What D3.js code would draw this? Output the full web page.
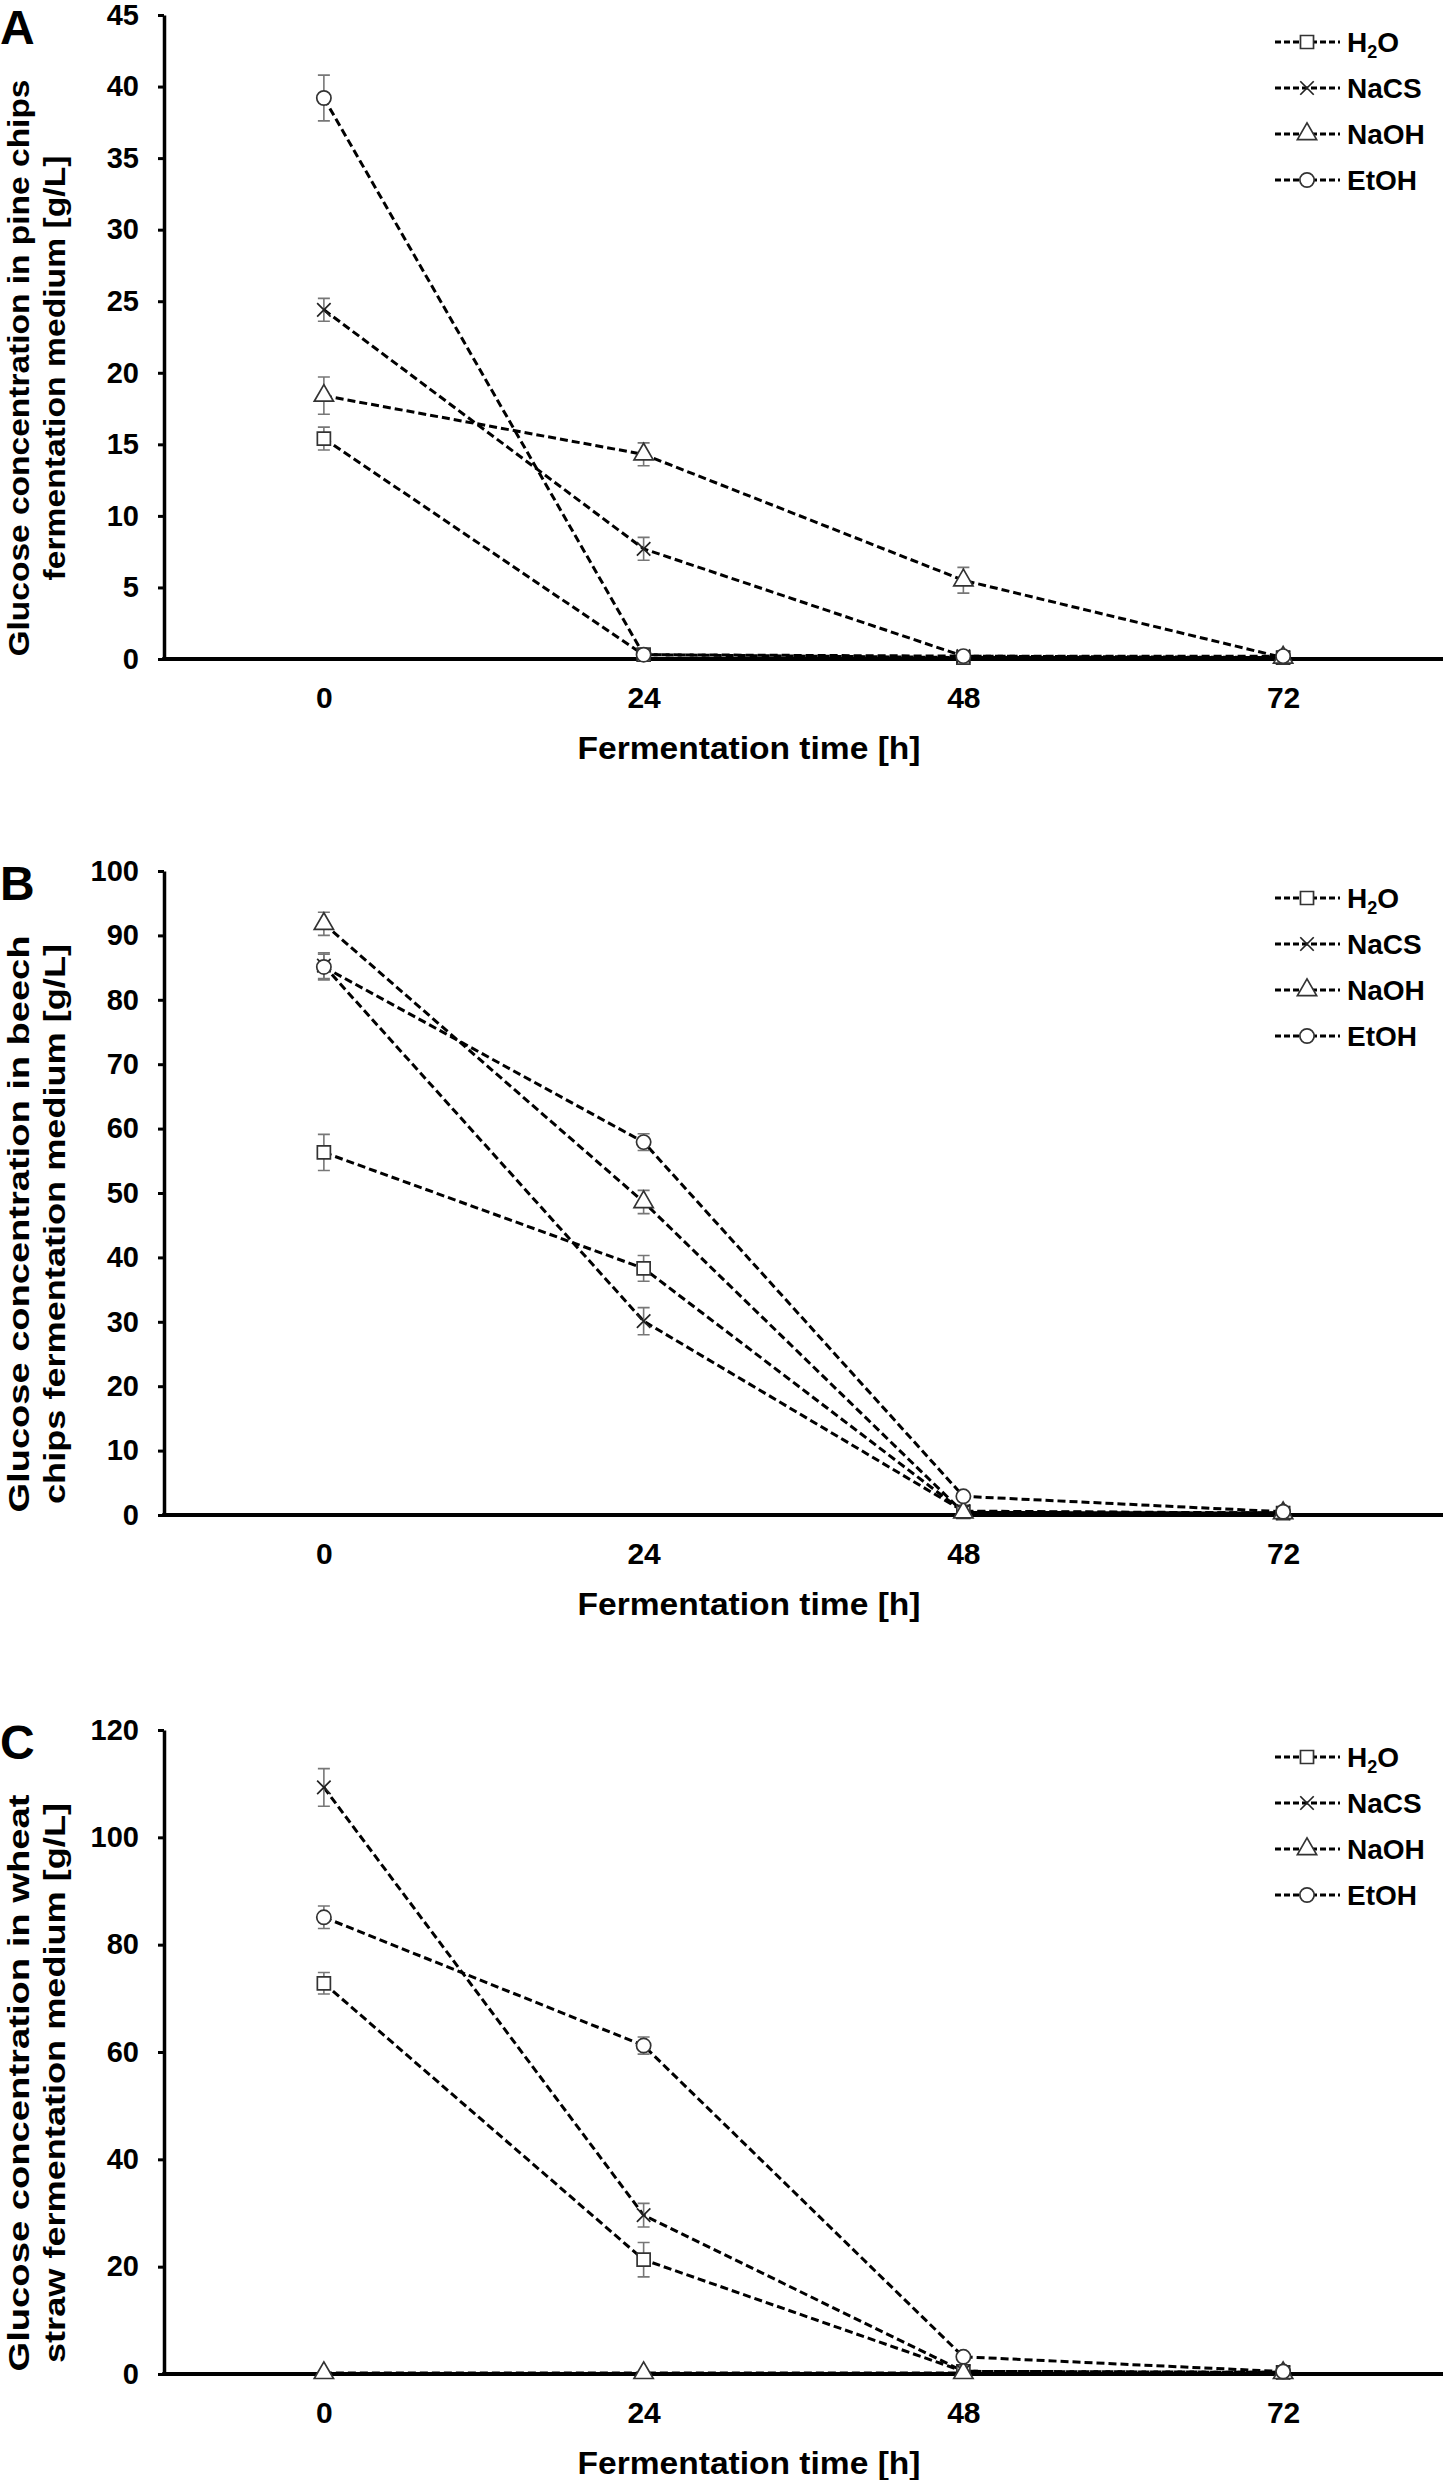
<!DOCTYPE html>
<html>
<head>
<meta charset="utf-8">
<script src="https://cdn.jsdelivr.net/npm/d3@7"></script>
<style>
  html, body { margin: 0; padding: 0; background: #fff; }
  svg { display: block; }
  text { font-family: "Liberation Sans", Arial, sans-serif; font-weight: bold; fill: #000; }
</style>
</head>
<body>
<svg id="chart" width="1443" height="2480"></svg>
<script>
// ---------------- DATA ----------------
const categories = ["0", "24", "48", "72"];
const seriesNames = ["H2O", "NaCS", "NaOH", "EtOH"];
const seriesSymbols = ["square", "x", "triangle", "circle"];

// Panel A: pine chips (rows = series H2O, NaCS, NaOH, EtOH; columns = 0, 24, 48, 72 h)
const pineMeans = [
  [15.4, 0.3, 0.1, 0.1],
  [24.4, 7.7, 0.2, 0.1],
  [18.4, 14.3, 5.5, 0.1],
  [39.2, 0.3, 0.2, 0.2]
];
const pineErrors = [
  [0.8, 0.1, 0.1, 0.1],
  [0.8, 0.8, 0.1, 0.1],
  [1.3, 0.8, 0.9, 0.1],
  [1.6, 0.1, 0.1, 0.1]
];
const pineTicks = [0, 5, 10, 15, 20, 25, 30, 35, 40, 45];

// Panel B: beech chips
const beechMeans = [
  [56.3, 38.3, 0.5, 0.3],
  [85.3, 30.1, 0.6, 0.3],
  [91.8, 48.6, 0.4, 0.3],
  [85.1, 57.9, 2.9, 0.5]
];
const beechErrors = [
  [2.8, 2.0, 0.2, 0.2],
  [2.0, 2.1, 0.2, 0.2],
  [1.8, 1.8, 0.2, 0.2],
  [2.0, 1.3, 0.3, 0.2]
];
const beechTicks = [0, 10, 20, 30, 40, 50, 60, 70, 80, 90, 100];

// Panel C: wheat straw
const wheatMeans = [
  [72.8, 21.3, 0.5, 0.3],
  [109.3, 29.6, 0.5, 0.3],
  [0.2, 0.2, 0.2, 0.2],
  [85.1, 61.2, 3.2, 0.45]
];
const wheatErrors = [
  [2.0, 3.2, 0.2, 0.2],
  [3.5, 2.2, 0.2, 0.2],
  [0.1, 0.1, 0.1, 0.1],
  [2.1, 1.6, 0.3, 0.2]
];
const wheatTicks = [0, 20, 40, 60, 80, 100, 120];

const panelLetters = ["A", "B", "C"];
const yTitleLine1 = ["Glucose concentration in pine chips", "Glucose concentration in beech", "Glucose concentration in wheat"];
const yTitleLine2 = ["fermentation medium [g/L]", "chips fermentation medium [g/L]", "straw fermentation medium [g/L]"];
const xTitle = "Fermentation time [h]";

// ---------------- LAYOUT ----------------
const svg = d3.select("#chart");
const axisX = 164, plotRight = 1443, plotH = 644;
const panelTops = [15, 871, 1730];
const panels = [
  { means: pineMeans, errs: pineErrors, ticks: pineTicks },
  { means: beechMeans, errs: beechErrors, ticks: beechTicks },
  { means: wheatMeans, errs: wheatErrors, ticks: wheatTicks }
];

const x = d3.scalePoint().domain(categories).range([axisX, plotRight]).padding(0.5);

function symbolPath(kind) {
  if (kind === "square") return d3.symbol(d3.symbolSquare, 170)();
  if (kind === "triangle") return d3.symbol(d3.symbolTriangle, 160)();
  if (kind === "circle") return d3.symbol(d3.symbolCircle, 160)();
  return d3.symbol(d3.symbolX, 120)();
}

function drawMarker(g, kind, cx, cy) {
  const p = g.append("path")
    .attr("d", symbolPath(kind))
    .attr("transform", `translate(${cx},${cy})`);
  if (kind === "x") {
    p.attr("fill", "none").attr("stroke", "#222").attr("stroke-width", 1.7);
  } else {
    p.attr("fill", "#fff").attr("stroke", "#333").attr("stroke-width", 1.7);
  }
}

panels.forEach((P, pi) => {
  const top = panelTops[pi];
  const bottom = top + plotH;
  const maxT = P.ticks[P.ticks.length - 1];
  const y = d3.scaleLinear().domain([0, maxT]).range([bottom, top]);
  const g = svg.append("g");

  // Y axis
  const yAxis = d3.axisLeft(y).tickValues(P.ticks).tickSize(6).tickSizeOuter(0).tickPadding(19);
  const ya = g.append("g").attr("transform", `translate(${axisX},0)`).call(yAxis);
  ya.select(".domain").attr("stroke", "#000").attr("stroke-width", 3.5);
  ya.selectAll(".tick line").attr("stroke", "#000").attr("stroke-width", 3);
  ya.selectAll(".tick text")
    .attr("font-size", 29).attr("font-weight", "bold")
    .attr("font-family", "'Liberation Sans', Arial, sans-serif").attr("fill", "#000");

  // Series lines
  const line = d3.line().x((d, i) => x(categories[i])).y(d => y(d));
  P.means.forEach((vals, si) => {
    g.append("path")
      .attr("d", line(vals))
      .attr("fill", "none").attr("stroke", "#000")
      .attr("stroke-width", 3).attr("stroke-dasharray", "8,4");
  });

  // X axis
  const xAxis = d3.axisBottom(x).tickSize(0).tickSizeOuter(0).tickPadding(28);
  const xa = g.append("g").attr("transform", `translate(0,${bottom})`).call(xAxis);
  xa.select(".domain").attr("stroke", "#000").attr("stroke-width", 4)
    .attr("d", `M${axisX - 1.75},0H${plotRight}`);
  xa.selectAll(".tick text")
    .attr("font-size", 30).attr("font-weight", "bold")
    .attr("font-family", "'Liberation Sans', Arial, sans-serif").attr("fill", "#000");

  // Error bars and markers
  P.means.forEach((vals, si) => {
    vals.forEach((v, ci) => {
      const e = P.errs[si][ci];
      const cx = x(categories[ci]);
      const y1 = y(v + e), y2 = y(Math.max(0, v - e));
      g.append("path")
        .attr("d", `M${cx},${y1}V${y2}M${cx - 6},${y1}H${cx + 6}M${cx - 6},${y2}H${cx + 6}`)
        .attr("stroke", "#777").attr("stroke-width", 1.6).attr("fill", "none");
    });
  });
  P.means.forEach((vals, si) => {
    vals.forEach((v, ci) => {
      drawMarker(g, seriesSymbols[si], x(categories[ci]), y(v));
    });
  });

  // Panel letter
  g.append("text").attr("x", 0).attr("y", top + 29).text(panelLetters[pi])
    .attr("font-size", 48);

  // Y title (two lines)
  const yc = top + 353;
  g.append("text")
    .attr("transform", `translate(29,${yc}) rotate(-90)`)
    .attr("text-anchor", "middle").attr("font-size", 30)
    .attr("textLength", 577).attr("lengthAdjust", "spacingAndGlyphs")
    .text(yTitleLine1[pi]);
  g.append("text")
    .attr("transform", `translate(65,${yc}) rotate(-90)`)
    .attr("text-anchor", "middle").attr("font-size", 30)
    .attr("textLength", pi === 0 ? 425 : 560).attr("lengthAdjust", "spacingAndGlyphs")
    .text(yTitleLine2[pi]);

  // X title
  g.append("text")
    .attr("x", 749).attr("y", bottom + 100)
    .attr("text-anchor", "middle").attr("font-size", 31)
    .attr("textLength", 343).attr("lengthAdjust", "spacingAndGlyphs")
    .text(xTitle);

  // Legend
  const lg = g.append("g");
  seriesNames.forEach((name, si) => {
    const ly = top + 27 + si * 46;
    lg.append("path")
      .attr("d", `M1275,${ly}H1340`)
      .attr("stroke", "#000").attr("stroke-width", 2.8).attr("stroke-dasharray", "6,3");
    drawMarker(lg, seriesSymbols[si], 1307, ly);
    const t = lg.append("text").attr("x", 1347).attr("y", ly + 10).attr("font-size", 28);
    if (name === "H2O") {
      t.append("tspan").text("H");
      t.append("tspan").text("2").attr("font-size", 18).attr("dy", 6);
      t.append("tspan").text("O").attr("dy", -6);
    } else {
      t.text(name);
    }
  });
});
</script>
</body>
</html>
